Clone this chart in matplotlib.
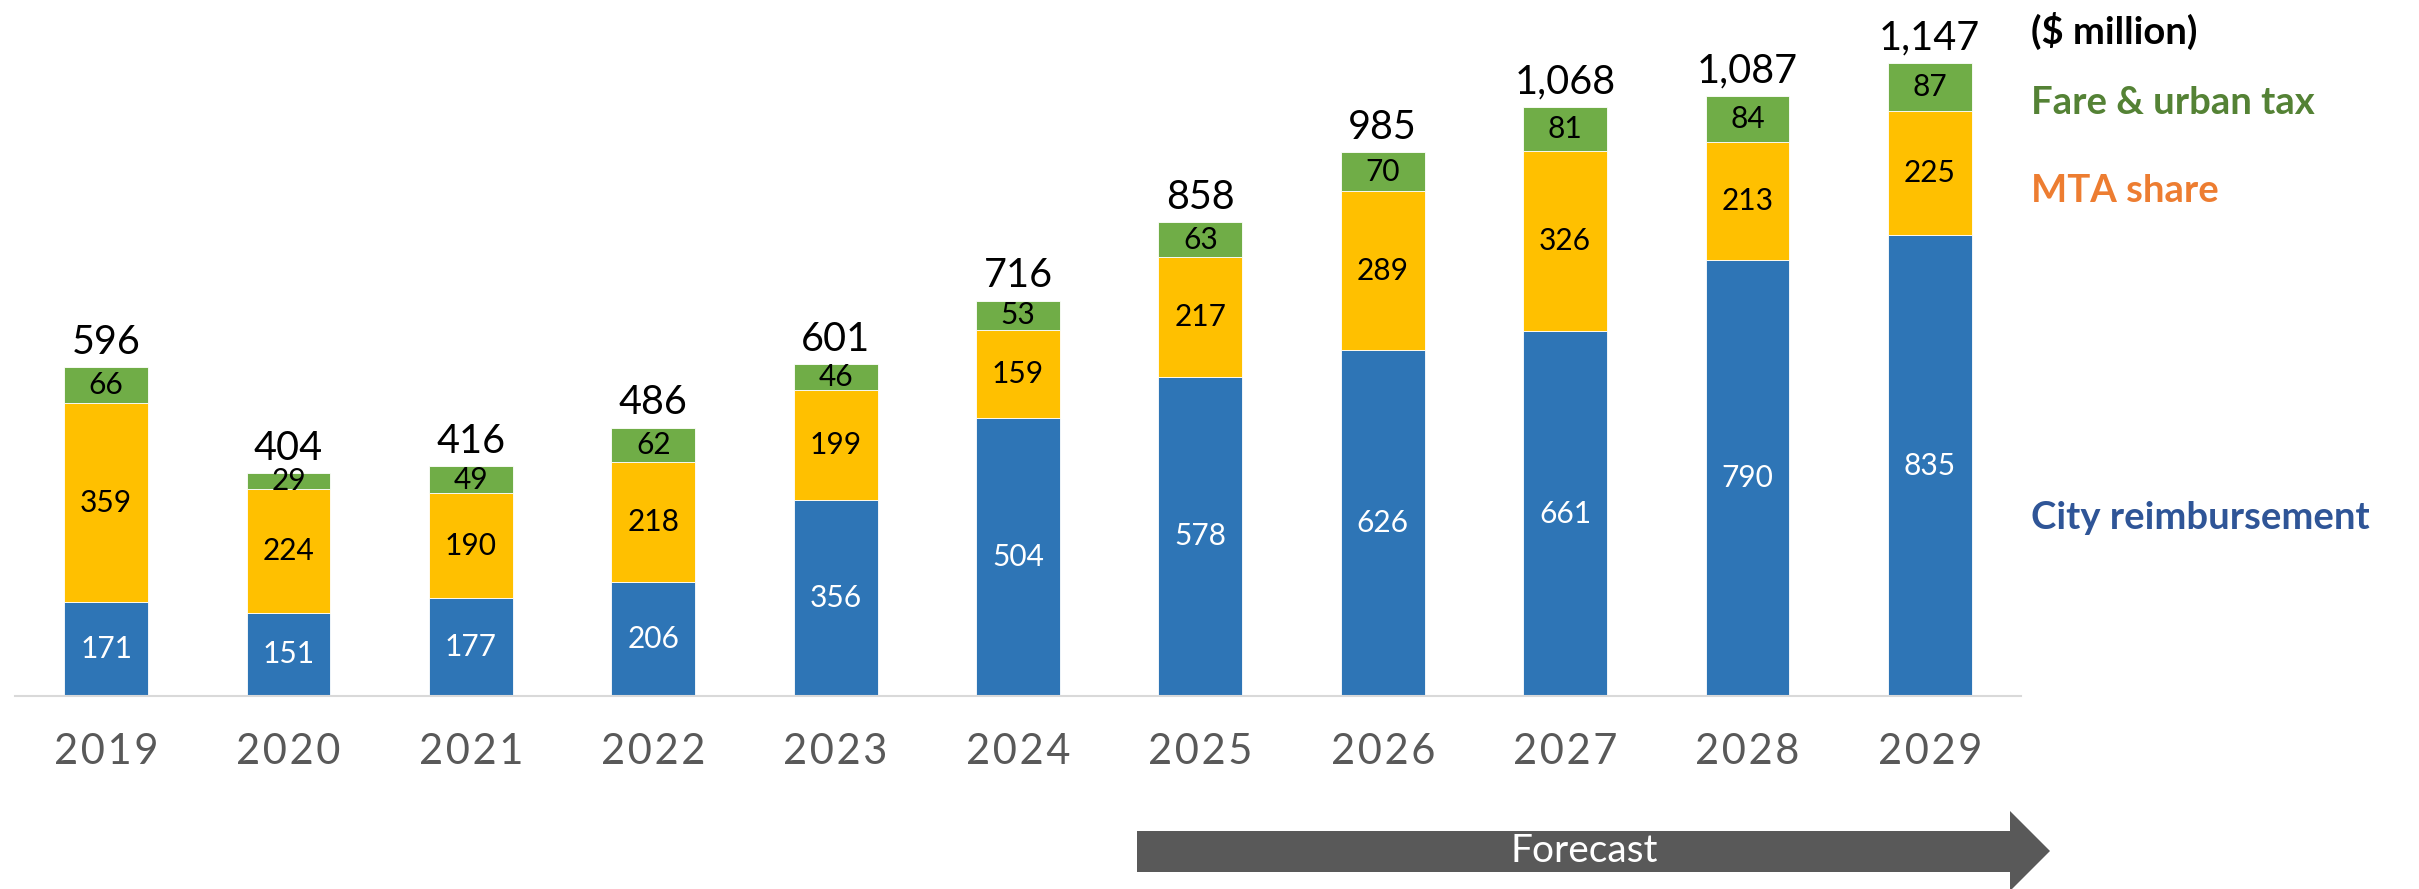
import matplotlib
matplotlib.use("Agg")
import matplotlib.pyplot as plt
from matplotlib.patches import Polygon

plt.rcParams['font.family'] = ['Lato', 'DejaVu Sans']

# Données ($ million)
years = ['2019', '2020', '2021', '2022', '2023', '2024', '2025', '2026', '2027', '2028', '2029']
city = [171, 151, 177, 206, 356, 504, 578, 626, 661, 790, 835]
mta = [359, 224, 190, 218, 199, 159, 217, 289, 326, 213, 225]
fare = [66, 29, 49, 62, 46, 53, 63, 70, 81, 84, 87]
totals = ['596', '404', '416', '486', '601', '716', '858', '985', '1,068', '1,087', '1,147']

c_blue = '#2E75B6'
c_yellow = '#FFC000'
c_green = '#70AD47'

W, H = 2419, 889
fig = plt.figure(figsize=(W / 100, H / 100), dpi=100)
ax = fig.add_axes([15 / W, (H - 696) / H, 2006 / W, 696 / H])

x = list(range(len(years)))
width = 0.46
bottom_mta = city
bottom_fare = [c + m for c, m in zip(city, mta)]
top = [b + f for b, f in zip(bottom_fare, fare)]

b1 = ax.bar(x, city, width, color=c_blue, edgecolor='white', linewidth=0.6)
b2 = ax.bar(x, mta, width, bottom=bottom_mta, color=c_yellow, edgecolor='white', linewidth=0.6)
b3 = ax.bar(x, fare, width, bottom=bottom_fare, color=c_green, edgecolor='white', linewidth=0.6)

ax.bar_label(b1, labels=[str(v) for v in city], label_type='center', color='white', fontsize=21.5)
ax.bar_label(b2, labels=[str(v) for v in mta], label_type='center', color='black', fontsize=21.5)
ax.bar_label(b3, labels=[str(v) for v in fare], label_type='center', color='black', fontsize=21.5)

# totaux au-dessus des barres
for xi, t, lab in zip(x, top, totals):
    ax.annotate(lab, (xi, t), xytext=(0, 18), textcoords='offset points',
                ha='center', va='center', fontsize=28.5, color='black')

ax.set_xlim(-0.5, 10.5)
ax.set_ylim(0, 1261)
ax.set_xticks(x)
# léger espacement des lettres comme dans l'original
ax.set_xticklabels(['\u200a'.join(y) for y in years], fontsize=30, color='#595959')
ax.tick_params(axis='x', length=0, pad=27)
ax.set_yticks([])
for s in ['top', 'right', 'left']:
    ax.spines[s].set_visible(False)
ax.spines['bottom'].set_color('#D9D9D9')
ax.spines['bottom'].set_linewidth(1.5)
ax.patch.set_alpha(0)

# légende à droite
lx = 2031 / W
fs_leg = 27.5
fig.text(lx, 1 - 31 / H, '($ million)', fontsize=fs_leg, fontweight='bold', color='black', va='center')
fig.text(lx, 1 - 103 / H, 'Fare & urban tax', fontsize=fs_leg, fontweight='bold', color='#548235', va='center')
fig.text(lx, 1 - 191 / H, 'MTA share', fontsize=fs_leg, fontweight='bold', color='#ED7D31', va='center')
fig.text(lx, 1 - 518 / H, 'City reimbursement', fontsize=fs_leg, fontweight='bold', color='#2F5597', va='center')

# flèche "Forecast"
pts = [(1137, 831), (2010, 831), (2010, 811), (2050, 851), (2010, 891), (2010, 872), (1137, 872)]
arrow = Polygon([(px / W, 1 - py / H) for px, py in pts], closed=True,
                transform=fig.transFigure, facecolor='#595959', edgecolor='none')
fig.add_artist(arrow)
fig.text(1584 / W, 1 - 851 / H, 'Forecast', fontsize=28, color='white', ha='center', va='center')

fig.savefig('out.png', dpi=100, facecolor='white')
